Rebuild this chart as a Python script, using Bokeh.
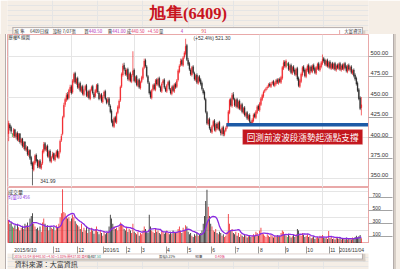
import pandas as pd
from bokeh.plotting import figure
from bokeh.models import (ColumnDataSource, Range1d, LinearAxis, FixedTicker,
                          CustomJSTickFormatter, Label, BoxAnnotation)
from bokeh.layouts import column
from bokeh.embed import file_html
from bokeh.resources import INLINE

# ---------------- data (daily, 2015/9/10 - 2016/11/04) ----------------
sep15_o = [405,416,413,404,403,410,401,406,397,405,394,399,389,395]
sep15_h = [421,418,415,406,412,411,407,408,406,406,400,400,396,396]
sep15_l = [396,409,405,401,400,400,398,396,395,393,391,388,386,384]
sep15_c = [418,412,408,404,410,402,405,398,404,395,398,390,394,386]
sep15_v = [360,300,330,260,240,280,220,300,250,200,240,270,220,300]

oct15_o = [385,389,379,385,376,369,361,369,379,373,365,372,363,369,383,393,385,390,377,384,371]
oct15_h = [391,390,386,386,378,371,372,380,381,374,373,374,370,386,395,395,391,392,385,386,378]
oct15_l = [383,378,377,373,366,341.99,359,367,370,363,363,362,361,367,381,384,383,376,375,370,369]
oct15_c = [388,380,384,375,368,362,370,378,372,366,371,364,368,384,392,386,389,378,383,372,376]
oct15_v = [280,320,250,380,420,460,300,260,220,240,200,260,180,320,380,300,250,280,200,260,240]

nov15_o = [377,381,373,378,384,376,383,397,405,426,441,446,453,449,457,463,456,469,479,467,473]
nov15_h = [383,382,381,385,386,384,398,405,427,443,449,455,456,460,465,465,472,480,481,474,475]
nov15_l = [375,372,371,376,375,374,381,395,403,424,438,444,446,447,455,453,454,467,466,465,460]
nov15_c = [380,374,379,383,377,382,396,402,425,440,447,452,448,458,462,455,470,478,468,472,462]
nov15_v = [220,260,200,280,240,300,400,460,830,480,460,420,380,400,340,380,440,400,340,300,280]

dec15_o = [461,467,457,463,453,459,464,451,457,448,459,463,454,451,457,465,455,449,453,444,451,457,447]
dec15_h = [468,469,464,465,460,465,466,458,459,460,464,465,456,460,466,467,457,454,455,452,458,459,449]
dec15_l = [459,456,455,452,451,457,450,449,447,446,457,453,448,449,455,454,446,447,443,442,449,446,441]
dec15_c = [466,458,462,454,458,463,452,456,449,458,462,455,450,458,464,456,448,452,445,450,456,448,443]
dec15_v = [260,220,300,180,240,200,260,160,220,180,240,200,150,220,260,180,140,200,160,120,180,140,160]

jan16_o = [444,448,439,433,421,414,425,419,431,437,446,463,477,489,483,477,484,471,479,469]
jan16_h = [450,450,441,435,423,426,427,432,440,447,464,480,491,492,486,485,486,480,481,478]
jan16_l = [442,438,430,418,413,412,418,417,429,435,444,461,475,482,476,475,470,469,468,467]
jan16_c = [447,440,432,420,415,424,420,430,438,445,462,478,488,484,478,483,472,478,470,476]
jan16_v = [180,260,440,380,300,260,220,240,200,260,320,300,280,220,200,240,180,220,200,160]

feb16_o = [477,483,469,475,464,471,461,469,473,486,495,487,475]
feb16_h = [506,485,476,477,472,473,470,476,487,497,497,489,477]
feb16_l = [475,468,467,463,462,460,459,467,471,484,486,474,466]
feb16_c = [482,470,474,465,470,462,468,474,485,494,488,476,468]
feb16_v = [300,180,160,140,180,120,160,140,200,260,220,180,160]

mar16_o = [467,456,449,459,465,459,471,465,473,462,457,467,471,461,457,465,469,459,454,463,457,466]
mar16_h = [469,458,460,466,467,472,473,474,475,464,468,472,473,463,466,470,471,461,464,465,467,468]
mar16_l = [453,448,447,457,458,457,464,463,461,456,455,465,460,456,455,463,458,453,452,456,455,460]
mar16_c = [455,450,458,464,460,470,466,472,463,458,466,470,462,458,464,468,460,455,462,458,465,462]
mar16_v = [440,260,200,180,160,220,180,200,160,140,200,180,150,170,200,160,140,180,150,200,170,160]

apr16_o = [463,471,481,489,495,489,499,503,513,495,491,483,477,487,479,471,477,467,475]
apr16_h = [472,484,490,497,497,500,506,521.3,515,498,493,485,488,489,481,478,479,476,477]
apr16_l = [461,469,479,487,488,487,497,501,494,488,482,476,475,478,470,469,466,465,468]
apr16_c = [470,482,488,494,490,498,504,512,496,490,484,478,486,480,472,476,468,474,470]
apr16_v = [180,220,260,200,160,240,200,280,260,180,140,160,120,100,140,120,160,120,140]

may16_o = [471,467,459,456,447,431,417,423,411,407,415,421,409,417,411,419,409,405,413,404,409]
may16_h = [473,469,461,458,449,433,424,425,413,416,422,423,418,419,420,421,411,414,415,410,414]
may16_l = [464,458,453,446,430,416,415,410,406,405,413,408,407,410,409,408,403,403,402,402,407]
may16_c = [466,460,455,448,432,418,422,412,408,414,420,410,416,412,418,410,406,412,405,408,412]
may16_v = [160,200,300,420,650,820,560,420,300,260,200,180,220,160,140,180,160,120,140,100,120]

jun16_o = [413,417,431,447,439,453,447,439,447,437,445,435,441,431,437,427,431,423,428,419,417]
jun16_h = [418,434,448,449,455,456,449,448,449,446,447,442,443,438,439,432,433,429,430,421,424]
jun16_l = [411,415,429,438,437,446,438,437,436,435,434,433,430,429,426,425,422,421,418,416,415]
jun16_c = [416,432,446,440,452,448,440,446,438,444,436,440,432,436,428,430,424,427,420,418,422]
jun16_v = [180,450,300,200,220,160,140,180,120,160,100,140,120,100,140,120,90,110,130,100,120]

jul16_o = [421,429,425,431,439,434,441,447,451,457,459,461,463,466,463,467,469,464,466,471,467]
jul16_h = [430,431,434,440,441,444,450,454,458,460,462,464,467,468,468,470,471,469,472,473,473]
jul16_l = [419,424,423,429,433,432,439,445,449,455,457,459,461,462,461,465,463,462,464,466,465]
jul16_c = [428,426,432,438,435,442,448,452,456,458,460,462,465,464,466,468,465,467,470,468,471]
jul16_v = [140,120,180,160,120,200,240,160,140,120,100,140,120,100,130,110,90,120,100,130,110]

aug16_o = [472,468,473,485,493,487,490,491,483,489,479,487,483,477,485,473,463,469,477,487,483,475,483]
aug16_h = [474,476,488,495,495,496,492,493,490,491,488,489,485,486,487,475,472,480,488,489,485,486,490]
aug16_l = [467,466,471,483,486,485,488,482,481,478,477,480,476,475,470,462,461,467,475,480,474,473,481]
aug16_c = [469,474,486,492,488,494,490,484,488,480,486,482,478,484,472,464,470,478,486,482,476,484,488]
aug16_v = [120,160,200,180,140,120,100,150,120,90,110,130,100,140,220,200,150,120,160,130,100,120,140]

sep16_o = [489,479,487,481,489,485,479,485,491,483,487,491,497,495,489,495,487,493,485]
sep16_h = [491,488,489,490,491,487,488,492,493,490,494,502,499,497,496,497,494,495,492]
sep16_l = [478,477,480,479,482,478,477,483,482,481,485,489,492,488,487,486,485,484,483]
sep16_c = [480,486,482,488,484,480,486,490,484,488,492,496,494,490,494,488,492,486,490]
sep16_v = [100,120,80,90,110,70,90,100,80,120,110,130,90,80,100,70,190,80,100]

oct16_o = [491,485,491,483,489,485,491,483,489,484,491,487,481,489,483,487,479,483,477,473]
oct16_h = [493,492,493,490,491,492,493,490,491,492,493,489,490,491,488,489,484,485,479,475]
oct16_l = [484,483,482,481,484,483,482,481,483,482,484,480,479,482,481,478,477,474,470,464]
oct16_c = [486,490,484,488,486,490,484,488,485,490,486,482,488,484,486,480,482,476,472,466]
oct16_v = [70,80,60,90,80,70,100,60,80,70,60,90,60,70,80,60,90,80,100,120]

nov16_o = [467,459,449,437]
nov16_h = [469,461,451,450]
nov16_l = [456,446,434,427.5]
nov16_c = [458,448,436,440.5]
nov16_v = [90,110,130,80]

month_starts = [0, 35, 56, 79, 99, 112, 134, 153, 174, 195, 216, 239, 258, 278]
month_labels = ["2015/9/10", "11", "12", "2016/1", "2", "3", "4", "5", "6", "7", "8", "9", "10", "11"]
last_date = "2016/11/04"
price_ticks = [350, 375, 400, 425, 450, 475, 500]
vol_ticks = [100, 300, 500, 700]
support_level = 416
support_start = 173.5
low_price, low_day = 341.99, 19
high_price, high_day = 521.30, 141

# ---------------- assemble ----------------
months = ["sep15", "oct15", "nov15", "dec15", "jan16", "feb16", "mar16", "apr16",
          "may16", "jun16", "jul16", "aug16", "sep16", "oct16", "nov16"]
g = globals()
opens = sum((g[m + "_o"] for m in months), [])
highs = sum((g[m + "_h"] for m in months), [])
lows = sum((g[m + "_l"] for m in months), [])
closes = sum((g[m + "_c"] for m in months), [])
volumes = sum((g[m + "_v"] for m in months), [])
n = min(len(opens), len(highs), len(lows), len(closes), len(volumes))
opens, highs, lows, closes, volumes = opens[:n], highs[:n], lows[:n], closes[:n], volumes[:n]
idx = list(range(n))

UP, DOWN, FLAT = "#f0262b", "#262626", "#22a83a"
colors = [UP if c > o else (DOWN if c < o else FLAT) for o, c in zip(opens, closes)]
ma10 = pd.Series(volumes, dtype=float).rolling(10, min_periods=1).mean().tolist()

src = ColumnDataSource(dict(
    x=idx, o=opens, h=highs, l=lows, c=closes,
    top=[max(a, b) for a, b in zip(opens, closes)],
    bot=[min(a, b) for a, b in zip(opens, closes)],
    color=colors, vol=volumes, ma=ma10))

# ---------------- styling constants ----------------
BEIGE = "#f5eee6"
PINK = "#e9a9a9"
GRAYLINE = "#b4acaa"
SHADOW = "#d6cec6"
TXT = "#333333"
MAG = "#b52ab8"
PRED = "#e0306a"
PURPLE = "#8a2be2"
CJK = "Noto Sans CJK TC"
LAT = "Liberation Sans"

W = 400
FL, FR = 7, 368
PPD = 1.2553
X0 = -0.9
X1 = X0 + (FR - FL) / PPD
xr = Range1d(X0, X1)

SIDE_CSS = {"background": (f"linear-gradient(to right, {BEIGE} 0px 5.5px, {GRAYLINE} 5.5px 6.5px, "
                           f"#ffffff 6.5px 392.8px, {GRAYLINE} 392.8px 393.8px, "
                           f"{SHADOW} 393.8px 396.5px, {BEIGE} 396.5px 400px)")}

common = dict(output_backend="svg", toolbar_location=None,
              x_axis_location=None, y_axis_location=None)

# ---------------- header strip (title + quote line) ----------------
H0 = 34
p0 = figure(width=W, height=H0, x_range=Range1d(0, W), y_range=Range1d(H0, 0),
            min_border_left=0, min_border_right=0, min_border_top=0, min_border_bottom=0,
            background_fill_color=BEIGE, border_fill_color=BEIGE, outline_line_color=None, **common)
p0.quad(left=[6], right=[393.5], top=[27], bottom=[H0], fill_color="white", line_color=None)
p0.quad(left=[393.8], right=[396.5], top=[30], bottom=[H0], fill_color=SHADOW, line_color=None)
p0.segment(x0=[5.5], x1=[394], y0=[27.1], y1=[27.1], line_color=GRAYLINE, line_width=1)
p0.segment(x0=[6], x1=[6], y0=[27], y1=[H0], line_color=GRAYLINE, line_width=1)
p0.segment(x0=[393.3], x1=[393.3], y0=[27], y1=[H0], line_color=GRAYLINE, line_width=1)
p0.segment(x0=[368], x1=[368], y0=[29.5], y1=[H0], line_color=PINK, line_width=1)


def dlabel(fig, X, Y, text, size, color=TXT, font=CJK, align="left", style="normal", rng=None):
    kw = {}
    if rng:
        kw["x_range_name"] = rng
    fig.add_layout(Label(x=X, y=Y, text=text, text_font_size=f"{size}px", text_color=color,
                         text_font=font, text_align=align, text_baseline="middle",
                         text_font_style=style, **kw))


dlabel(p0, 200, 12.5, "旭隼(6409)", 16.5, color="#c8141e", font="Liberation Serif",
       align="center", style="bold")
for X, t, col in [(7.5, "旭", TXT), (14, "隼", TXT), (25, "6409日線", TXT), (50, "設粉 7/07張", TXT),
                  (85, "買", TXT), (90, "440.50", MAG), (111, "賣", TXT), (116, "441.00", MAG),
                  (132, "成", TXT), (137, "440.50", PRED), (155, "+4.50", PRED), (168, "量", TXT),
                  (192, "4", MAG), (215, "91", "#e02020"), (373, "大富資訊", TXT)]:
    dlabel(p0, X, 30.8, t, 4.4, color=col)

# ---------------- price figure ----------------
H1 = 153
FB1 = 187  # canvas y of price frame bottom
p1 = figure(width=W, height=H1, x_range=xr, y_range=Range1d(339.3, 526.5),
            min_border_left=FL, min_border_right=W - FR, min_border_top=0, min_border_bottom=0,
            background_fill_color="white", border_fill_color=None,
            outline_line_color=PINK, styles=SIDE_CSS, **common)

LBL_OFF = 4
pax = LinearAxis(ticker=FixedTicker(ticks=[t + LBL_OFF for t in price_ticks], minor_ticks=price_ticks),
                 formatter=CustomJSTickFormatter(args=dict(off=LBL_OFF), code="return (tick - off).toFixed(2);"),
                 axis_line_color=PINK, major_tick_line_color=None, major_tick_out=0, major_tick_in=0,
                 minor_tick_line_color="#a4a4a4", minor_tick_out=24, minor_tick_in=0,
                 major_label_standoff=-22, major_label_text_font_size="5.8px",
                 major_label_text_color=TXT, major_label_text_font=LAT)
p1.add_layout(pax, "right")

p1.segment(x0="x", y0="l", x1="x", y1="h", line_color="color", line_width=0.7, source=src)
p1.vbar(x="x", width=0.65, top="top", bottom="bot", fill_color="color", line_color="color",
        line_width=0.3, source=src)

p1.segment(x0=[support_start], x1=[X1], y0=[support_level], y1=[support_level],
           line_color="#1d5aa6", line_width=3.5)
p1.add_layout(BoxAnnotation(left=186.4, right=282.0, bottom=392.0, top=410.2,
                            fill_color="#c3161d", fill_alpha=1, line_color="#f0b4b4", line_width=1))
p1.add_layout(Label(x=234.2, y=401.1, text="回測前波波段漲勢起漲點支撐", text_color="white",
                    text_font_size="8.6px", text_font=CJK, text_align="center", text_baseline="middle"))
p1.add_layout(Label(x=low_day + 6.2, y=347, text=f"{low_price:.2f}", text_color=TXT,
                    text_font_size="5px", text_font=LAT, text_baseline="middle"))
p1.add_layout(Label(x=high_day + 6.2, y=522.6, text=f"(+52.4%) {high_price:.2f}", text_color=TXT,
                    text_font_size="5px", text_font=LAT, text_baseline="middle"))
p1.add_layout(Label(x=8 - FL, y=FB1 - 36.6, x_units="screen", y_units="screen", text="歷權K 線圖",
                    text_font_size="4.4px", text_color=TXT, text_font=CJK, text_baseline="middle"))

# ---------------- volume figure ----------------
H2 = 56
FB2 = 243
p2 = figure(width=W, height=H2, x_range=xr, y_range=Range1d(0, 855),
            min_border_left=FL, min_border_right=W - FR, min_border_top=0, min_border_bottom=0,
            background_fill_color="white", border_fill_color=None,
            outline_line_color=PINK, styles=SIDE_CSS, **common)

VOFF = 45
vax = LinearAxis(ticker=FixedTicker(ticks=[t + VOFF for t in vol_ticks], minor_ticks=vol_ticks),
                 formatter=CustomJSTickFormatter(args=dict(off=VOFF), code="return (tick - off).toFixed(0);"),
                 axis_line_color=PINK, major_tick_line_color=None, major_tick_out=0, major_tick_in=0,
                 minor_tick_line_color="#a4a4a4", minor_tick_out=24, minor_tick_in=0,
                 major_label_standoff=-20, major_label_text_font_size="5px",
                 major_label_text_color=TXT, major_label_text_font=LAT)
p2.add_layout(vax, "right")

p2.vbar(x="x", width=0.65, top="vol", bottom=0, fill_color="color", line_color=None, source=src)
p2.line(x="x", y="ma", line_color=PURPLE, line_width=1.3, source=src)

for X, Y, t, fs, col in [(7.5, 191.3, "成交量", 5, TXT), (7.5, 196.3, "均量10 456", 4.4, PURPLE)]:
    p2.add_layout(Label(x=X - FL, y=FB2 - Y, x_units="screen", y_units="screen", text=t,
                        text_font_size=f"{fs}px", text_color=col, text_font=CJK, text_baseline="middle"))

# ---------------- bottom strip (date axis + info line + source) ----------------
H3 = 26
ROW = 7  # height of date row (axis area)
p3 = figure(width=W, height=H3, x_range=Range1d(0, W), y_range=Range1d(H3 - ROW, 0),
            min_border_left=0, min_border_right=0, min_border_top=ROW, min_border_bottom=0,
            background_fill_color=BEIGE, border_fill_color=None, outline_line_color=None,
            styles=SIDE_CSS, **common)
DX0 = X0 - FL / PPD
p3.extra_x_ranges = {"days": Range1d(DX0, DX0 + W / PPD)}

DATE_FS = 5.0


def text_w(s, fs):
    return sum((0.278 if ch in "/." else 0.556) for ch in s) * fs


bounds = [m - 0.5 for m in month_starts]
centers = [round(b + (text_w(s, DATE_FS) / 2 + 1.2) / PPD, 4) for b, s in zip(bounds, month_labels)]
last_pos = round(DX0 + 381.5 / PPD, 4)
tick_pos = centers + [last_pos]
tick_lab = month_labels + [last_date]
dax = LinearAxis(x_range_name="days",
                 ticker=FixedTicker(ticks=tick_pos, minor_ticks=bounds[1:] + [X1]),
                 formatter=CustomJSTickFormatter(args=dict(pos=tick_pos, lab=tick_lab), code="""
                     for (let i = 0; i < pos.length; i++) {
                         if (Math.abs(tick - pos[i]) < 1e-3) return lab[i];
                     }
                     return "";"""),
                 axis_line_color=None, major_tick_line_color=None, major_tick_out=0, major_tick_in=0,
                 minor_tick_line_color="#9a9a9a", minor_tick_out=ROW, minor_tick_in=0,
                 major_label_standoff=-6, major_label_text_font_size=f"{DATE_FS}px",
                 major_label_text_color=TXT, major_label_text_font=LAT)
p3.add_layout(dax, "above")

# panel pieces in pixel coordinates (y = canvas y - 250)
p3.quad(left=[6], right=[393.5], top=[0], bottom=[6.6], fill_color="white", line_color=None)
p3.quad(left=[9], right=[396.5], top=[7.1], bottom=[9.2], fill_color=SHADOW, line_color=None)
p3.quad(left=[393.8], right=[396.5], top=[0], bottom=[9.2], fill_color=SHADOW, line_color=None)
p3.segment(x0=[5.5], x1=[394], y0=[6.6], y1=[6.6], line_color=GRAYLINE, line_width=1)
p3.segment(x0=[6], x1=[6], y0=[0], y1=[6.6], line_color=GRAYLINE, line_width=1)
p3.segment(x0=[393.3], x1=[393.3], y0=[0], y1=[6.6], line_color=GRAYLINE, line_width=1)
p3.segment(x0=[6], x1=[393.5], y0=[0.4], y1=[0.4], line_color="#c8b4b4", line_width=0.8)

info_y = 3.4
dlabel(p3, 7.5, info_y, "2016/11/04 收440.50 +4.50 +1.03% 開437.00 高450.00", 3.3, color="#d8365a")
dlabel(p3, 88.5, info_y, "低427.50", 3.3, color="#1c9a7a")
dlabel(p3, 168, info_y, "振幅5.21%", 3.3)
dlabel(p3, 208, info_y, "90筆", 3.3)
dlabel(p3, 230, info_y, "0.40張", 3.3, color=PRED)
dlabel(p3, 8, 12.3, "資料來源：大富資訊", 7, color="#333333")

layout = column(p0, p1, p2, p3, spacing=0)
open("out.html", "w").write(file_html(layout, INLINE))
